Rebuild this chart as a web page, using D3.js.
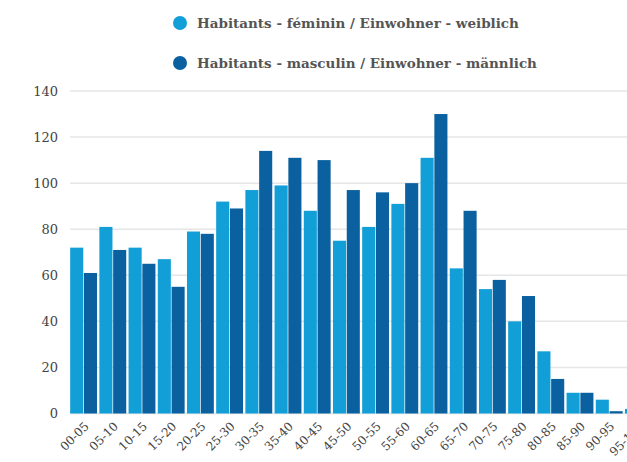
<!DOCTYPE html>
<html>
<head>
<meta charset="utf-8">
<script src="https://cdn.jsdelivr.net/npm/d3@7/dist/d3.min.js"></script>
<style>
  html, body { margin: 0; padding: 0; background: #fff; overflow: hidden; }
  svg { display: block; }
  .tick-label { font-family: "DejaVu Serif", serif; fill: #444; }
  .legend-label { font-family: "DejaVu Serif", serif; fill: #555; }
</style>
</head>
<body>
<svg id="chart" width="627" height="462"></svg>
<script>
// age groups
const categories = ['00-05', '05-10', '10-15', '15-20', '20-25', '25-30', '30-35', '35-40', '40-45', '45-50',
  '50-55', '55-60', '60-65', '65-70', '70-75', '75-80', '80-85', '85-90', '90-95', '95-100'];

const femaleValues = [72, 81, 72, 67, 79, 92, 97, 99, 88, 75, 81, 91, 111, 63, 54, 40, 27, 9, 6, 2];
const maleValues = [61, 71, 65, 55, 78, 89, 114, 111, 110, 97, 96, 100, 130, 88, 58, 51, 15, 9, 1, 1];

const yTicks = [0, 20, 40, 60, 80, 100, 120, 140];

const seriesNames = [
  'Habitants - féminin / Einwohner - weiblich',
  'Habitants - masculin / Einwohner - männlich'
];
const colors = ['#129fd7', '#0b61a0'];

const svg = d3.select('#chart');

// scales
const y = d3.scaleLinear().domain([0, 140]).range([413.5, 91]);

const x = d3.scaleBand()
  .domain(categories)
  .range([69, 69 + 29.2 * 20])
  .paddingInner(0.08)
  .paddingOuter(0.04);

const xSub = d3.scaleBand()
  .domain([0, 1])
  .range([0, x.bandwidth()])
  .paddingInner(0.05);

// gridlines
svg.append('g')
  .selectAll('line')
  .data(yTicks)
  .enter()
  .append('line')
  .attr('x1', 70)
  .attr('x2', 627)
  .attr('y1', d => y(d))
  .attr('y2', d => y(d))
  .attr('stroke', '#e6e6e6')
  .attr('stroke-width', 1.5);

// y tick labels
svg.append('g')
  .selectAll('text')
  .data(yTicks)
  .enter()
  .append('text')
  .attr('class', 'tick-label')
  .attr('x', 58)
  .attr('y', d => y(d))
  .attr('dy', '0.35em')
  .attr('text-anchor', 'end')
  .attr('font-size', '13px')
  .text(d => d);

// bars
const rows = categories.map((c, i) => ({ cat: c, vals: [femaleValues[i], maleValues[i]] }));

const group = svg.append('g')
  .selectAll('g')
  .data(rows)
  .enter()
  .append('g')
  .attr('transform', d => `translate(${x(d.cat)},0)`);

group.selectAll('rect')
  .data(d => d.vals.map((v, k) => ({ k, v })))
  .enter()
  .append('rect')
  .attr('x', d => xSub(d.k))
  .attr('width', xSub.bandwidth())
  .attr('y', d => y(d.v))
  .attr('height', d => y(0) - y(d.v))
  .attr('fill', d => colors[d.k]);

// x labels (rotated)
svg.append('g')
  .selectAll('text')
  .data(categories)
  .enter()
  .append('text')
  .attr('class', 'tick-label')
  .attr('font-size', '12px')
  .attr('text-anchor', 'end')
  .attr('transform', d => `translate(${x(d) + x.bandwidth() / 2 + 6},427) rotate(-45)`)
  .text(d => d);

// legend
const legend = svg.append('g')
  .selectAll('g')
  .data(seriesNames)
  .enter()
  .append('g')
  .attr('transform', (d, i) => `translate(180,${23 + i * 40})`);

legend.append('circle')
  .attr('r', 7)
  .attr('fill', (d, i) => colors[i]);

legend.append('text')
  .attr('class', 'legend-label')
  .attr('x', 17)
  .attr('dy', '0.35em')
  .attr('font-size', '13.5px')
  .attr('font-weight', 600)
  .text(d => d);
</script>
</body>
</html>
